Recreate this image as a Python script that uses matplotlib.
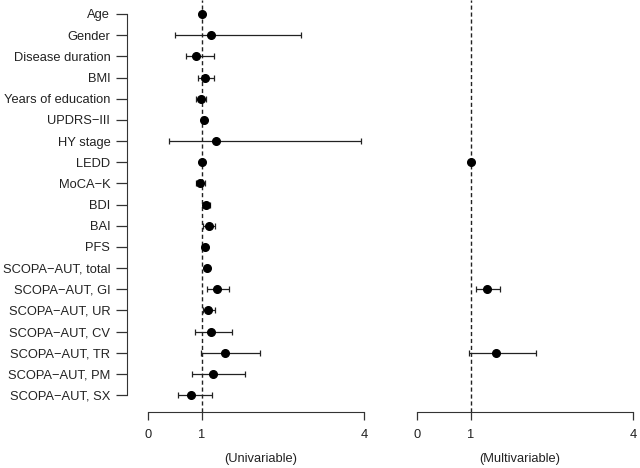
import matplotlib
matplotlib.use('Agg')
import matplotlib.pyplot as plt
import numpy as np

plt.rcParams['font.family'] = ['Liberation Sans', 'DejaVu Sans']

variables = ['Age', 'Gender', 'Disease duration', 'BMI', 'Years of education',
             'UPDRS\u2212III', 'HY stage', 'LEDD', 'MoCA\u2212K', 'BDI', 'BAI', 'PFS',
             'SCOPA\u2212AUT, total', 'SCOPA\u2212AUT, GI', 'SCOPA\u2212AUT, UR',
             'SCOPA\u2212AUT, CV', 'SCOPA\u2212AUT, TR', 'SCOPA\u2212AUT, PM',
             'SCOPA\u2212AUT, SX']

# univariable odds ratios and 95% CI
uni_or = [1.00, 1.17, 0.89, 1.06, 0.98, 1.04, 1.26, 1.00, 0.96, 1.07, 1.13, 1.05,
          1.09, 1.28, 1.11, 1.17, 1.43, 1.20, 0.80]
uni_lo = [0.98, 0.50, 0.70, 0.93, 0.89, 1.02, 0.39, 0.99, 0.89, 1.02, 1.02, 1.02,
          1.05, 1.09, 1.02, 0.87, 0.98, 0.81, 0.56]
uni_hi = [1.02, 2.83, 1.22, 1.22, 1.07, 1.06, 3.94, 1.01, 1.06, 1.15, 1.24, 1.08,
          1.13, 1.50, 1.24, 1.56, 2.07, 1.80, 1.19]

# multivariable (only retained variables)
multi_vars = ['LEDD', 'SCOPA\u2212AUT, GI', 'SCOPA\u2212AUT, TR']
multi_or = [1.00, 1.30, 1.46]
multi_lo = [0.99, 1.09, 0.96]
multi_hi = [1.01, 1.54, 2.20]

W, H = 640, 468
FS = 9.3
fig = plt.figure(figsize=(W / 100, H / 100), dpi=100)

rows = np.arange(1, len(variables) + 1)
ylim = (19.80, 0.339)


def forest(ax, y, est, lo, hi, xlabel):
    est = np.array(est)
    err = [est - np.array(lo), np.array(hi) - est]
    ax.errorbar(est, y, xerr=err, fmt='o', color='black', ecolor='#222222',
                elinewidth=0.9, capsize=2.2, capthick=0.9, markersize=5.5, zorder=3)
    ax.axvline(1, color='#222222', lw=1.0, dashes=(3, 2), zorder=1)
    ax.set_ylim(*ylim)
    ax.set_xticks([0, 1, 4])
    ax.set_xticklabels(['0', '1', '4'])
    ax.spines['top'].set_visible(False)
    ax.spines['right'].set_visible(False)
    ax.spines['bottom'].set_bounds(0, 4)
    ax.spines['bottom'].set_color('#333333')
    ax.tick_params(axis='x', direction='out', length=6, width=0.9, pad=6,
                   labelsize=FS, colors='#333333', labelcolor='#222222')
    ax.set_xlabel(xlabel, fontsize=FS, color='#222222', labelpad=9)


ax1 = fig.add_axes([127 / W, 1 - 412 / H, (395 - 127) / W, 412 / H])
forest(ax1, rows, uni_or, uni_lo, uni_hi, '(Univariable)')
ax1.set_xlim(-0.389, 4.574)
ax1.set_yticks(rows)
ax1.set_yticklabels(variables)
ax1.spines['left'].set_bounds(1, 19)
ax1.spines['left'].set_color('#333333')
ax1.tick_params(axis='y', direction='out', length=8, width=0.9, pad=4,
                labelsize=FS, colors='#333333', labelcolor='#222222')

ax2 = fig.add_axes([400 / W, 1 - 412 / H, 240 / W, 412 / H])
multi_rows = [variables.index(v) + 1 for v in multi_vars]
forest(ax2, multi_rows, multi_or, multi_lo, multi_hi, '(Multivariable)')
ax2.set_xlim(-0.315, 4.13)
ax2.spines['left'].set_visible(False)
ax2.set_yticks([])

fig.savefig('out.png', dpi=100)
